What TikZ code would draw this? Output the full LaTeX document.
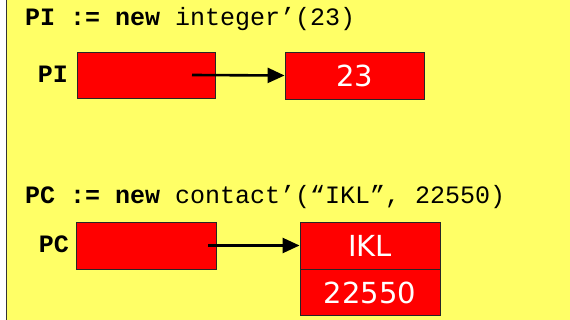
\documentclass[tikz,border=0pt]{standalone}
\usepackage{fontspec}
\setmonofont{Liberation Mono}
\newfontfamily\boxfont{DejaVu Sans}
\usetikzlibrary{arrows.meta}
\definecolor{bgyellow}{RGB}{255,255,102}
\definecolor{boxred}{RGB}{255,0,0}
\begin{document}
\begin{tikzpicture}[x=1pt,y=-1pt,
  cell/.style={draw=black!85, line width=0.9pt, fill=boxred, inner sep=0pt,
    text=white, font=\boxfont\fontsize{29}{29}\selectfont,
    text height=23pt, text depth=0pt},
  code/.style={anchor=base west, inner sep=0pt, font=\ttfamily\fontsize{25}{25}\selectfont},
  lbl/.style={anchor=base east, inner sep=0pt, font=\ttfamily\bfseries\fontsize{25}{25}\selectfont},
  link/.style={line width=2.6pt, -{Triangle[length=17pt,width=15pt]}}]
\useasboundingbox (0,0) rectangle (570,320);
\fill[white] (0,0) rectangle (570,320);
\fill[bgyellow] (6.5,0) rectangle (570,320);
\draw[line width=1.5pt, black!80] (6.5,0) -- (6.5,320);

\node[code] (l1) at (25,26) {\textbf{PI := new} integer’(23)};
\node[code] (l2) at (25,204) {\textbf{PC := new} contact’(“IKL”, 22550)};

\node[cell, minimum width=138pt, minimum height=46pt] (pi) at (146,75) {};
\node[cell, minimum width=139pt, minimum height=47pt] (v23) at (354.5,75.5) {23};
\node[lbl] (lpi) at (68,83) {PI};

\node[cell, minimum width=140pt, minimum height=47pt] (pc) at (146,245.5) {};
\node[cell, minimum width=140pt, minimum height=47pt] (ikl) at (370,245.5) {IKL};
\node[cell, minimum width=140pt, minimum height=46pt] (num) at (370,292) {22550};
\node[lbl] (lpc) at (69,253) {PC};

\coordinate (pis) at (192,75);
\coordinate (pcs) at (208,245.5);
\draw[link] (pis) -- (v23.west);
\draw[link] (pcs) -- (ikl.west);
\end{tikzpicture}
\end{document}
